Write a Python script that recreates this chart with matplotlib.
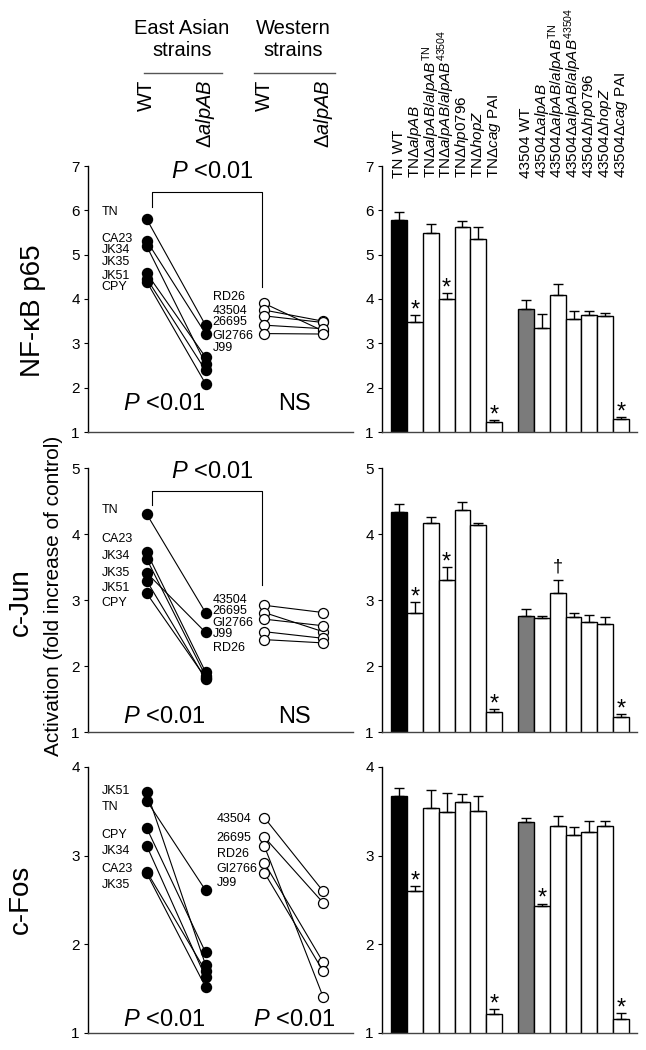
import matplotlib
matplotlib.use('Agg')
import matplotlib.pyplot as plt
import matplotlib.transforms as mtransforms
import numpy as np

plt.rcParams['font.family'] = ['Liberation Sans', 'DejaVu Sans']
plt.rcParams['mathtext.fontset'] = 'custom'
plt.rcParams['mathtext.rm'] = 'Liberation Sans'
plt.rcParams['mathtext.it'] = 'Liberation Sans:italic'
plt.rcParams['mathtext.bf'] = 'Liberation Sans:bold'

# ---- paired strain data (WT -> deltaalpAB) ----
nf_ea_names = ['TN', 'CA23', 'JK34', 'JK35', 'JK51', 'CPY']
nf_ea_wt = [5.80, 5.31, 5.19, 4.58, 4.46, 4.39]
nf_ea_ko = [3.41, 3.22, 2.54, 2.69, 2.39, 2.09]
nf_w_names = ['RD26', '43504', '26695', 'GI2766', 'J99']
nf_w_wt = [3.90, 3.75, 3.62, 3.41, 3.22]
nf_w_ko = [3.28, 3.50, 3.47, 3.33, 3.21]

jun_ea_names = ['TN', 'CA23', 'JK34', 'JK35', 'JK51', 'CPY']
jun_ea_wt = [4.30, 3.72, 3.62, 3.41, 3.29, 3.10]
jun_ea_ko = [2.81, 1.91, 1.85, 2.51, 1.80, 1.82]
jun_w_names = ['43504', '26695', 'GI2766', 'J99', 'RD26']
jun_w_wt = [2.92, 2.81, 2.71, 2.52, 2.40]
jun_w_ko = [2.81, 2.52, 2.61, 2.42, 2.35]

fos_ea_names = ['JK51', 'TN', 'CPY', 'JK34', 'CA23', 'JK35']
fos_ea_wt = [3.72, 3.62, 3.31, 3.11, 2.82, 2.80]
fos_ea_ko = [1.77, 2.61, 1.91, 1.63, 1.70, 1.52]
fos_w_names = ['43504', '26695', 'RD26', 'GI2766', 'J99']
fos_w_wt = [3.43, 3.21, 3.11, 2.92, 2.81]
fos_w_ko = [2.60, 2.47, 1.41, 1.80, 1.70]

# ---- bar data (mutant panel) ----
bar_labels = [
    'TN WT',
    r'TN$\Delta\mathit{alpAB}$',
    r'TN$\Delta\mathit{alpAB/alpAB}^{\mathrm{TN}}$',
    r'TN$\Delta\mathit{alpAB/alpAB}^{\mathrm{43504}}$',
    r'TN$\Delta\mathit{hp0796}$',
    r'TN$\Delta\mathit{hopZ}$',
    r'TN$\Delta\mathit{cag}$ PAI',
    '43504 WT',
    r'43504$\Delta\mathit{alpAB}$',
    r'43504$\Delta\mathit{alpAB/alpAB}^{\mathrm{TN}}$',
    r'43504$\Delta\mathit{alpAB/alpAB}^{\mathrm{43504}}$',
    r'43504$\Delta\mathit{hp0796}$',
    r'43504$\Delta\mathit{hopZ}$',
    r'43504$\Delta\mathit{cag}$ PAI',
]
nf_mean = [5.79, 3.48, 5.49, 4.01, 5.62, 5.35, 1.23, 3.78, 3.35, 4.09, 3.55, 3.64, 3.61, 1.29]
nf_sem = [0.17, 0.16, 0.21, 0.13, 0.15, 0.27, 0.04, 0.19, 0.32, 0.24, 0.18, 0.10, 0.08, 0.04]
jun_mean = [4.34, 2.80, 4.17, 3.30, 4.37, 4.14, 1.30, 2.76, 2.72, 3.10, 2.74, 2.67, 2.63, 1.22]
jun_sem = [0.12, 0.17, 0.09, 0.20, 0.12, 0.03, 0.05, 0.11, 0.04, 0.20, 0.06, 0.11, 0.11, 0.05]
fos_mean = [3.67, 2.60, 3.54, 3.49, 3.60, 3.50, 1.21, 3.38, 2.43, 3.33, 3.23, 3.27, 3.33, 1.16]
fos_sem = [0.09, 0.06, 0.20, 0.22, 0.10, 0.17, 0.06, 0.05, 0.03, 0.12, 0.09, 0.12, 0.06, 0.06]
nf_stars = [1, 3, 6, 13]
jun_stars = [1, 3, 6, 13]
jun_daggers = [9]
fos_stars = [1, 6, 8, 13]

W, H = 646, 1050
fig = plt.figure(figsize=(W / 100, H / 100), dpi=100)


def px_axes(x0, x1, y0, y1):
    return fig.add_axes([x0 / W, 1 - y1 / H, (x1 - x0) / W, (y1 - y0) / H])


def style_axes(ax, ymax):
    ax.set_ylim(1, ymax)
    ax.set_yticks(range(1, ymax + 1))
    for s in ['top', 'right']:
        ax.spines[s].set_visible(False)
    ax.spines['left'].set_linewidth(1.0)
    ax.spines['bottom'].set_linewidth(1.0)
    ax.spines['bottom'].set_color('#444444')
    ax.set_xticks([])
    ax.tick_params(axis='y', direction='out', length=3, width=0.8, labelsize=11, pad=3)


def paired_panel(ax, ymax, ea_names, ea_wt, ea_ko, w_names, w_wt, w_ko,
                 ea_label_y, w_label_y, w_label_x, p_right, p_y, bracket=None):
    style_axes(ax, ymax)
    ax.set_xlim(-1.0, 3.51)
    for a, b in zip(ea_wt, ea_ko):
        ax.plot([0, 1], [a, b], '-o', color='black', lw=0.8, ms=7.2,
                mfc='black', mec='black', clip_on=False, zorder=3)
    for a, b in zip(w_wt, w_ko):
        ax.plot([2, 3], [a, b], '-o', color='black', lw=0.8, ms=7.2,
                mfc='white', mec='black', mew=0.9, clip_on=False, zorder=3)
    for name, y in zip(ea_names, ea_label_y):
        ax.text(-0.77, y, name, fontsize=9, ha='left', va='center')
    for name, y in zip(w_names, w_label_y):
        ax.text(w_label_x, y, name, fontsize=9, ha='left', va='center')
    tr = mtransforms.blended_transform_factory(ax.transData, ax.transAxes)
    ax.text(0.31, p_y, r'$\mathit{P}$ <0.01', fontsize=17, ha='center', va='center', transform=tr)
    ax.text(2.52, p_y, p_right, fontsize=17, ha='center', va='center', transform=tr)
    if bracket is not None:
        yl, yt, yr, yp = bracket
        ax.plot([0.085, 0.085, 1.96, 1.96], [yl, yt, yt, yr], color='black', lw=0.8)
        ax.text(1.12, yp, r'$\mathit{P}$ <0.01', fontsize=17, ha='center', va='center')


bar_x = np.r_[np.arange(7), np.arange(8, 15)]
bar_colors = ['black'] + ['white'] * 6 + ['#7b7b7b'] + ['white'] * 6


def bar_panel(ax, ymax, mean, sem, stars, daggers=()):
    style_axes(ax, ymax)
    ax.set_xlim(-1.07, 15.0)
    ax.bar(bar_x, mean, width=1.0, color=bar_colors, edgecolor='black', lw=1.0, zorder=2)
    ax.errorbar(bar_x, mean, yerr=[np.zeros(len(mean)), sem], fmt='none', ecolor='black',
                elinewidth=1.0, capsize=3.6, capthick=1.0, zorder=3)
    tops = np.array(mean) + np.array(sem)
    for i in stars:
        ax.annotate('*', (bar_x[i], tops[i]), xytext=(0, -1), textcoords='offset points',
                    ha='center', va='baseline', fontsize=17)
    for i in daggers:
        ax.annotate('\u2020', (bar_x[i], tops[i]), xytext=(0, 6), textcoords='offset points',
                    ha='center', va='baseline', fontsize=13)


rows = [(166, 432), (468, 732), (767, 1033)]

ax1 = px_axes(88, 353, *rows[0])
paired_panel(ax1, 7, nf_ea_names, nf_ea_wt, nf_ea_ko, nf_w_names, nf_w_wt, nf_w_ko,
             [5.97, 5.35, 5.11, 4.84, 4.51, 4.27], [4.04, 3.72, 3.47, 3.17, 2.89], 1.12,
             'NS', 0.105, bracket=(6.07, 6.41, 4.27, 6.86))
ax2 = px_axes(88, 353, *rows[1])
paired_panel(ax2, 5, jun_ea_names, jun_ea_wt, jun_ea_ko, jun_w_names, jun_w_wt, jun_w_ko,
             [4.37, 3.93, 3.66, 3.41, 3.18, 2.95], [3.00, 2.83, 2.65, 2.48, 2.28], 1.12,
             'NS', 0.057, bracket=(4.44, 4.65, 3.23, 4.94))
ax3 = px_axes(88, 353, *rows[2])
paired_panel(ax3, 4, fos_ea_names, fos_ea_wt, fos_ea_ko, fos_w_names, fos_w_wt, fos_w_ko,
             [3.73, 3.55, 3.23, 3.05, 2.85, 2.67], [3.41, 3.20, 3.02, 2.85, 2.69], 1.19,
             r'$\mathit{P}$ <0.01', 0.05)

bx1 = px_axes(382, 637, *rows[0])
bar_panel(bx1, 7, nf_mean, nf_sem, nf_stars)
bx2 = px_axes(382, 637, *rows[1])
bar_panel(bx2, 5, jun_mean, jun_sem, jun_stars, jun_daggers)
bx3 = px_axes(382, 637, *rows[2])
bar_panel(bx3, 4, fos_mean, fos_sem, fos_stars)

# bar labels above the top bar panel
for xi, lab in zip(bar_x, bar_labels):
    bx1.text(xi, 6.72, lab, rotation=90, ha='center', va='bottom', fontsize=11, clip_on=False)

# column headers for the paired panels
htr = mtransforms.blended_transform_factory(ax1.transData, fig.transFigure)
fig.text(0.6, 1 - 40 / H, 'East Asian\nstrains', transform=htr, ha='center', va='center',
         fontsize=14.5, linespacing=1.2)
fig.text(2.5, 1 - 40 / H, 'Western\nstrains', transform=htr, ha='center', va='center',
         fontsize=14.5, linespacing=1.2)
fig.add_artist(plt.Line2D([-0.05, 1.28], [1 - 73 / H] * 2, transform=htr, color='#555555', lw=1))
fig.add_artist(plt.Line2D([1.82, 3.2], [1 - 73 / H] * 2, transform=htr, color='#555555', lw=1))
for xi, lab in zip([0, 1, 2, 3], ['WT', r'$\Delta\mathit{alpAB}$', 'WT', r'$\Delta\mathit{alpAB}$']):
    fig.text(xi, 1 - 80 / H, lab, transform=htr, rotation=90, ha='center', va='top', fontsize=14.5)

# row labels
fig.text(33 / W, 1 - 311 / H, 'NF-\u03baB p65', rotation=90, ha='center', va='center', fontsize=20)
fig.text(21 / W, 1 - 602 / H, 'c-Jun', rotation=90, ha='center', va='center', fontsize=20)
fig.text(21 / W, 1 - 899 / H, 'c-Fos', rotation=90, ha='center', va='center', fontsize=20)
fig.text(54 / W, 1 - 596 / H, 'Activation (fold increase of control)', rotation=90,
         ha='center', va='center', fontsize=15)

fig.savefig('out.png', dpi=100)
